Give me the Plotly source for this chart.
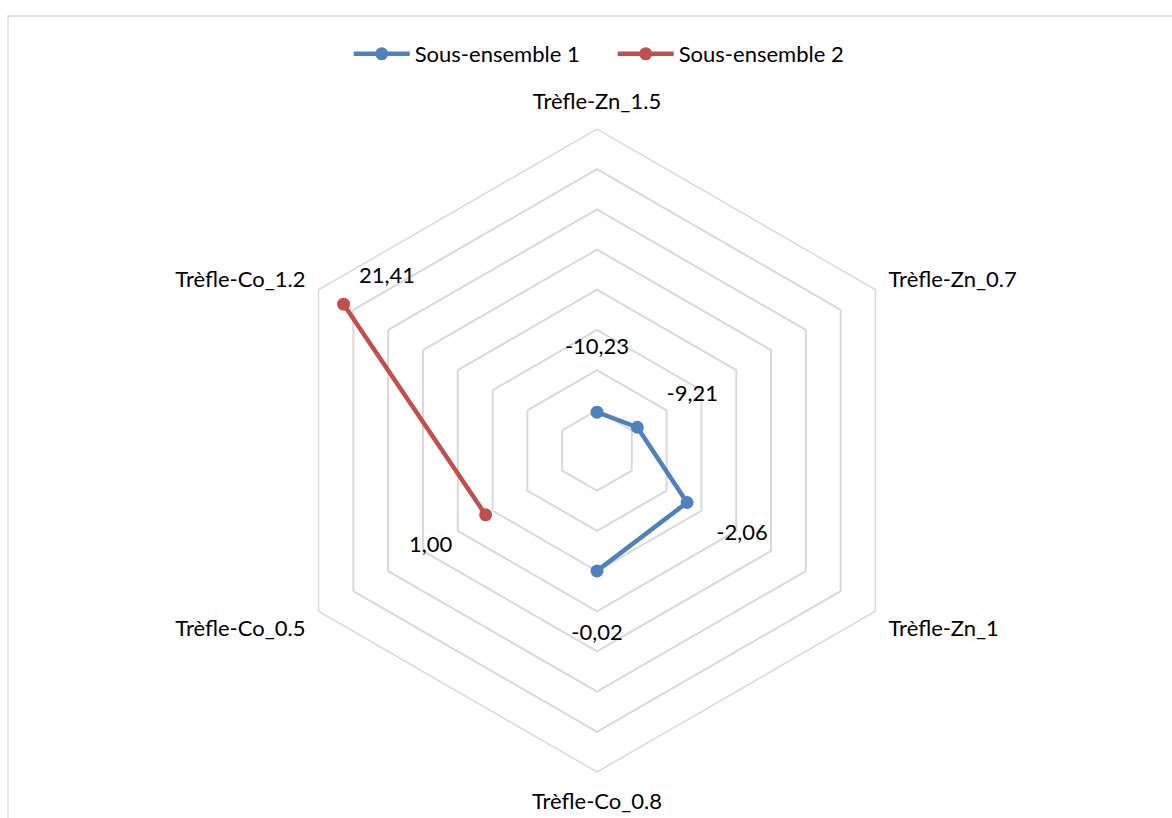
import plotly.graph_objects as go

# Categories around the radar (clockwise from the top)
categories = ["Trèfle-Zn_1.5", "Trèfle-Zn_0.7", "Trèfle-Zn_1",
              "Trèfle-Co_0.8", "Trèfle-Co_0.5", "Trèfle-Co_1.2"]

# Series 1 covers the zinc treatments and Co_0.8
s1_theta = ["Trèfle-Zn_1.5", "Trèfle-Zn_0.7", "Trèfle-Zn_1", "Trèfle-Co_0.8"]
s1_values = [-10.23, -9.21, -2.06, -0.02]

# Series 2 covers the remaining cobalt treatments
s2_theta = ["Trèfle-Co_0.5", "Trèfle-Co_1.2"]
s2_values = [1.00, 21.41]

radial_min, radial_max, radial_step = -15, 25, 5

BLUE = "#4F81BD"
RED = "#C0504D"
GRID = "#D9D9D9"
FONT = "Lato, Open Sans, sans-serif"
FS = 22
LABEL_GAP = 7.9  # radial distance between a point and its value label


def fr(v):
    return f"{v:.2f}".replace(".", ",")


fig = go.Figure()

# cliponaxis=True lets the hexagonal clip path handle visibility, so points
# inside the grid are kept even when the radial range starts below zero
fig.add_trace(go.Scatterpolar(
    r=s1_values, theta=s1_theta, mode="lines+markers",
    name="Sous-ensemble 1", cliponaxis=True,
    line=dict(color=BLUE, width=4.5),
    marker=dict(color=BLUE, size=13),
))
fig.add_trace(go.Scatterpolar(
    r=s2_values, theta=s2_theta, mode="lines+markers",
    name="Sous-ensemble 2", cliponaxis=True,
    line=dict(color=RED, width=4.5),
    marker=dict(color=RED, size=13),
))

# Value labels pushed outward along each spoke
spoke_theta = s1_theta + s2_theta[:1]
spoke_vals = s1_values + s2_values[:1]
fig.add_trace(go.Scatterpolar(
    r=[v + LABEL_GAP for v in spoke_vals], theta=spoke_theta,
    mode="text", text=[fr(v) for v in spoke_vals], cliponaxis=True,
    textposition="middle center",
    textfont=dict(family=FONT, size=FS, color="#000000"),
    showlegend=False, hoverinfo="skip",
))
# Label of the outermost point sits above and to the right of it
fig.add_trace(go.Scatterpolar(
    r=s2_values[1:], theta=s2_theta[1:], cliponaxis=True,
    mode="markers+text", text=[fr(v) for v in s2_values[1:]],
    textposition="top right",
    marker=dict(size=23, color="rgba(0,0,0,0)"),
    textfont=dict(family=FONT, size=FS, color="#000000"),
    showlegend=False, hoverinfo="skip",
))

W, H = 1172, 818
cx, cy, R = 597, 450.5, 321.5

fig.update_layout(
    width=W, height=H,
    margin=dict(l=0, r=0, t=0, b=0),
    paper_bgcolor="white",
    font=dict(family=FONT, size=FS, color="#000000"),
    polar=dict(
        domain=dict(x=[(cx - 500) / W, (cx + 500) / W],
                    y=[(H - cy - R) / H, (H - cy + R) / H]),
        bgcolor="rgba(0,0,0,0)",
        gridshape="linear",
        radialaxis=dict(
            range=[radial_min, radial_max], dtick=radial_step, tick0=radial_min,
            showticklabels=False, ticks="", showline=False,
            gridcolor=GRID, gridwidth=1.5,
        ),
        angularaxis=dict(
            type="category", categoryorder="array", categoryarray=categories,
            rotation=90, direction="clockwise",
            showgrid=False, showline=True, linecolor=GRID, linewidth=1.5,
            ticks="outside", ticklen=10, tickcolor="rgba(0,0,0,0)",
            tickfont=dict(family=FONT, size=FS, color="#000000"),
        ),
    ),
    legend=dict(
        orientation="h", x=0.5228, xanchor="center",
        y=(H - 54) / H, yanchor="middle",
        font=dict(family=FONT, size=FS, color="#000000"),
        bgcolor="rgba(0,0,0,0)",
        itemwidth=56, entrywidth=193, entrywidthmode="pixels",
    ),
    shapes=[dict(
        type="rect", xref="paper", yref="paper",
        x0=8 / W, x1=1.1, y0=-0.1, y1=(H - 16) / H,
        line=dict(color=GRID, width=1.5), layer="below",
    )],
)

fig.write_html("out.html")
